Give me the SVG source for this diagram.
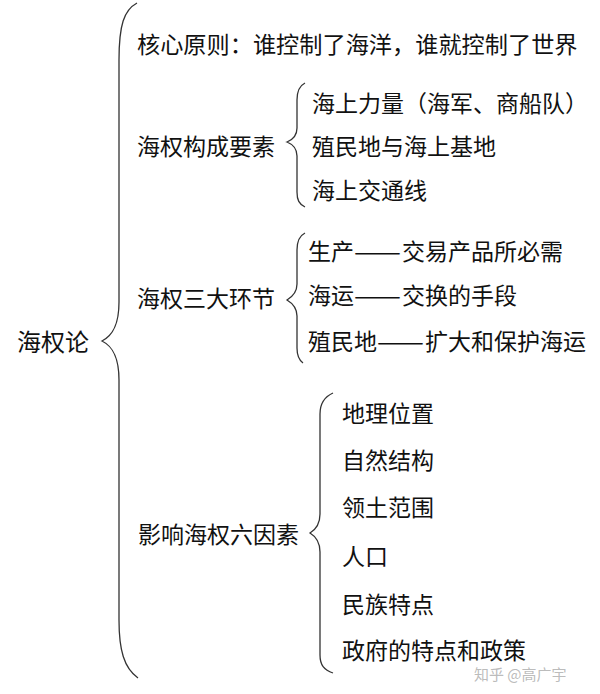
<svg xmlns="http://www.w3.org/2000/svg" width="600" height="694" viewBox="0 0 600 694">
<style>
text{font-family:"Noto Sans CJK SC","Noto Sans CJK JP",sans-serif;font-size:23px;fill:#111;dominant-baseline:central}
.b{fill:none;stroke:#333;stroke-width:1.3}
.wm{font-size:15px;fill:#aaa;fill-opacity:0.8}
</style>
<rect width="600" height="694" fill="#fff"/>
<g id="connectors">
<path class="b" d="M137 3 C124 10 119 25 119 60 L119 302 C119 326 112 336 102 341 C112 346 119 356 119 380 L119 620 C119 650 124 668 138 678"/>
<path class="b" d="M305 83 C299 86 297 92 297 100 L297 128 C297 136 292 140 287 142 C292 144 297 148 297 156 L297 192 C297 200 299 204 305 207"/>
<path class="b" d="M305 233 C299 236 297 242 297 250 L297 284 C297 293 292 297 287 300 C292 303 297 307 297 316 L297 348 C297 356 299 360 303 363"/>
<path class="b" d="M333 393 C324 397 320 404 320 414 L320 514 C320 525 315 530 310 533 C315 536 320 541 320 552 L320 655 C320 665 324 670 333 673"/>
</g>
<g id="root"><text x="17" y="340" style="font-size:24px">海权论</text></g>
<g id="core"><text x="137" y="43" style="font-size:23.2px">核心原则：谁控制了海洋，谁就控制了世界</text></g>
<g id="elements">
<text x="137" y="145">海权构成要素</text>
<text x="312" y="102">海上力量（海军、商船队）</text>
<text x="312" y="145">殖民地与海上基地</text>
<text x="312" y="189">海上交通线</text>
</g>
<g id="links">
<text x="137" y="297">海权三大环节</text>
<text y="250"><tspan x="308">生产</tspan><tspan x="354" textLength="47" lengthAdjust="spacingAndGlyphs">——</tspan><tspan x="402">交易产品所必需</tspan></text>
<text y="294"><tspan x="308">海运</tspan><tspan x="354" textLength="47" lengthAdjust="spacingAndGlyphs">——</tspan><tspan x="402">交换的手段</tspan></text>
<text y="340"><tspan x="308">殖民地</tspan><tspan x="377" textLength="47" lengthAdjust="spacingAndGlyphs">——</tspan><tspan x="425">扩大和保护海运</tspan></text>
</g>
<g id="factors">
<text x="138" y="533">影响海权六因素</text>
<text x="342" y="412">地理位置</text>
<text x="342" y="459">自然结构</text>
<text x="342" y="506">领土范围</text>
<text x="342" y="555">人口</text>
<text x="342" y="603">民族特点</text>
<text x="342" y="649">政府的特点和政策</text>
</g>
<g id="watermark"><text class="wm" x="474" y="673">知乎 @高广宇</text></g>
</svg>
